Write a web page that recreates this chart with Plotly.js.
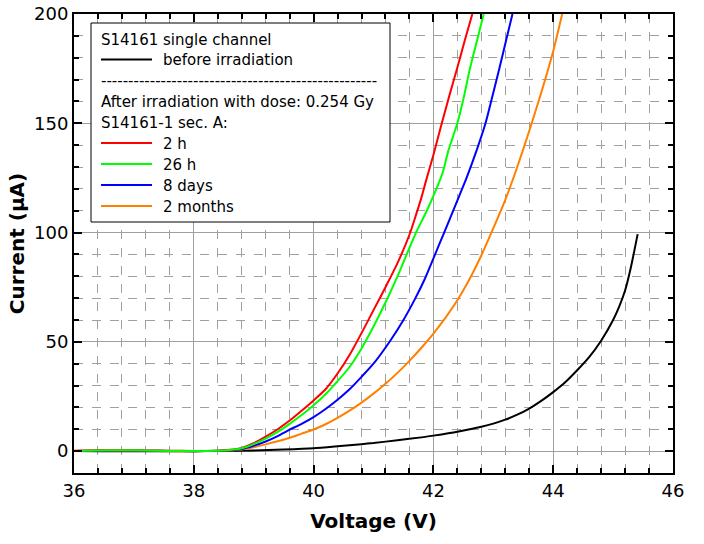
<!DOCTYPE html>
<html>
<head>
<meta charset="utf-8">
<script src="https://cdn.plot.ly/plotly-3.0.1.min.js"></script>
<style>html,body{margin:0;padding:0;background:#fff;}#chart{width:704px;height:544px;}</style>
</head>
<body>
<div id="chart"></div>
<script>
// ---- Data ----
const V_BEFORE = [36.0, 36.4, 37.0, 38.0, 38.5, 39.0, 39.5, 40.0, 40.4, 40.8, 41.0, 41.4, 41.8, 42.0, 42.4, 42.8, 43.0, 43.2, 43.4, 43.6, 43.8, 44.0, 44.2, 44.4, 44.6, 44.8, 45.0, 45.1, 45.2, 45.3, 45.41];
const I_BEFORE = [0.1, 0.0, 0.0, 0.0, 0.1, 0.3, 0.7, 1.3, 2.2, 3.2, 3.7, 5.0, 6.3, 7.1, 8.9, 11.2, 12.6, 14.4, 16.7, 19.5, 23, 27, 31.5, 37, 43, 50.5, 60, 66, 73.5, 84.5, 99.3];

const V_2H = [36.0, 36.4, 36.8, 37.2, 37.6, 38.0, 38.4, 38.6, 38.8, 39.0, 39.2, 39.4, 39.6, 39.8, 40.0, 40.2, 40.4, 40.6, 40.8, 41.0, 41.2, 41.4, 41.6, 41.72, 41.8, 41.88, 42.0, 42.14, 42.27, 42.4, 42.52, 42.65];
const I_2H = [0.2, 0.4, 0.5, 0.3, 0.2, 0.1, 0.2, 0.6, 1.5, 3.6, 6.6, 10, 14, 18.5, 23.2, 28.3, 35.5, 44, 54, 64.5, 75, 86, 99, 109, 116, 124, 135.5, 150, 163, 175.5, 187.5, 200];

const V_26H = [36.0, 36.4, 36.8, 37.2, 37.6, 38.0, 38.4, 38.6, 38.8, 39.0, 39.2, 39.4, 39.6, 39.8, 40.0, 40.2, 40.4, 40.6, 40.8, 41.0, 41.2, 41.4, 41.6, 41.71, 41.89, 42.05, 42.15, 42.25, 42.4, 42.5, 42.61, 42.72, 42.84];
const I_26H = [0.1, 0.3, 0.4, 0.3, 0.1, 0.1, 0.2, 0.5, 1.3, 3.2, 5.7, 8.8, 12.5, 16.5, 21, 26, 32, 38.5, 47, 57, 68, 80, 93, 100, 110, 120, 127, 137.5, 150, 161, 175, 187, 200];

const V_8D = [36.0, 36.4, 36.8, 37.2, 37.6, 38.0, 38.4, 38.6, 38.8, 39.0, 39.2, 39.4, 39.6, 39.8, 40.0, 40.2, 40.4, 40.6, 40.8, 41.0, 41.28, 41.5, 41.7, 41.86, 42.02, 42.18, 42.36, 42.56, 42.72, 42.87, 43.0, 43.1, 43.21, 43.32];
const I_8D = [0.1, 0.2, 0.3, 0.2, 0.1, 0.0, 0.2, 0.4, 1.0, 2.5, 4.4, 6.9, 9.8, 12.5, 15.6, 19.3, 23.5, 28.3, 34, 40, 50.5, 60, 70, 79, 89.5, 100, 112, 125.5, 137.5, 150, 164, 175, 187.5, 200];

const V_2M = [36.0, 36.4, 36.8, 37.2, 37.6, 38.0, 38.4, 38.6, 38.8, 39.0, 39.2, 39.4, 39.6, 39.8, 40.0, 40.2, 40.4, 40.6, 40.8, 41.0, 41.2, 41.4, 41.6, 41.8, 42.0, 42.2, 42.4, 42.6, 42.8, 43.0, 43.2, 43.4, 43.6, 43.8, 44.0, 44.15];
const I_2M = [0.1, 0.2, 0.2, 0.1, 0.0, 0.0, 0.1, 0.3, 0.8, 1.8, 3.1, 4.5, 6.1, 8, 9.9, 12.3, 15.2, 18.5, 22.2, 26.3, 30.8, 35.8, 41.3, 47.3, 53.8, 61, 69, 78.5, 89.5, 102, 115, 130, 146.5, 164, 183, 200];

const X_TICKS = [36, 38, 40, 42, 44, 46];
const Y_TICKS = [0, 50, 100, 150, 200];

const LEGEND_HEADER = "S14161 single channel";
const LEGEND_BEFORE = "before irradiation";
const LEGEND_SEP = "---------------------------------------------------";
const LEGEND_AFTER1 = "After irradiation with dose: 0.254 Gy";
const LEGEND_AFTER2 = "S14161-1 sec. A:";
const SERIES_NAMES = ["2 h", "26 h", "8 days", "2 months"];
const SERIES_COLORS = ["#ff0000", "#00ff00", "#0000ff", "#ff8000"];

// ---- Traces ----
const FONT = "DejaVu Sans, Verdana, sans-serif";
function line(x, y, color, name) {
  return {x: x, y: y, type: 'scatter', mode: 'lines', name: name,
          line: {color: color, width: 2, shape: 'spline', smoothing: 0.6},
          showlegend: false, hoverinfo: 'skip'};
}
const traces = [
  line(V_BEFORE, I_BEFORE, '#000000', LEGEND_BEFORE),
  line(V_2M, I_2M, SERIES_COLORS[3], SERIES_NAMES[3]),
  line(V_8D, I_8D, SERIES_COLORS[2], SERIES_NAMES[2]),
  line(V_2H, I_2H, SERIES_COLORS[0], SERIES_NAMES[0]),
  line(V_26H, I_26H, SERIES_COLORS[1], SERIES_NAMES[1]),
  // empty trace that only activates the mirrored (top/right) axes
  {x: [], y: [], type: 'scatter', mode: 'lines', xaxis: 'x2', yaxis: 'y2', showlegend: false, hoverinfo: 'skip'}
];

// ---- Legend box (pixel layout converted to paper coords) ----
const L = 74, R = 31, T = 14, B = 71, W = 704, H = 544;
const pw = W - L - R, ph = H - T - B;
const px = p => (p - L) / pw;
const py = p => (H - B - p) / ph;

const shapes = [
  {type: 'rect', xref: 'paper', yref: 'paper', x0: px(91), x1: px(390), y0: py(222), y1: py(23),
   fillcolor: '#ffffff', line: {color: '#000000', width: 1}, layer: 'above'},
  {type: 'line', xref: 'paper', yref: 'paper', x0: px(101), x1: px(152), y0: py(59.5), y1: py(59.5),
   line: {color: '#000000', width: 2}, layer: 'above'}
];
const rowY = [143, 164, 185, 206];
SERIES_COLORS.forEach((c, i) => {
  shapes.push({type: 'line', xref: 'paper', yref: 'paper', x0: px(101), x1: px(152), y0: py(rowY[i]), y1: py(rowY[i]),
               line: {color: c, width: 2}, layer: 'above'});
});

function ann(text, x, y) {
  return {text: text, xref: 'paper', yref: 'paper', x: px(x), y: py(y), xanchor: 'left', yanchor: 'middle',
          showarrow: false, font: {family: FONT, size: 15, color: '#000'}};
}
const annotations = [
  ann(LEGEND_HEADER, 99, 40),
  ann(LEGEND_BEFORE, 161, 60),
  ann(LEGEND_SEP, 99, 81),
  ann(LEGEND_AFTER1, 99, 102),
  ann(LEGEND_AFTER2, 99, 123)
];
SERIES_NAMES.forEach((n, i) => annotations.push(ann(n, 161, rowY[i] + 1)));

const minorCommon = {ticks: 'inside', ticklen: 5, tickwidth: 2, tickcolor: '#000'};
const axisCommon = {
  showline: true, linecolor: '#000', linewidth: 2, mirror: true,
  ticks: 'inside', ticklen: 8, tickwidth: 2, tickcolor: '#000',
  showgrid: true, gridcolor: '#a0a0a0', gridwidth: 1, zeroline: false,
  tickfont: {family: FONT, size: 18, color: '#000'},
};

const layout = {
  width: W, height: H,
  margin: {l: L, r: R, t: T, b: B, pad: 0},
  paper_bgcolor: '#fff', plot_bgcolor: '#fff',
  showlegend: false,
  font: {family: FONT, color: '#000'},
  xaxis: Object.assign({}, axisCommon, {
    range: [36, 46], tickmode: 'array', tickvals: X_TICKS, ticktext: X_TICKS.map(String),
    minor: Object.assign({dtick: 0.4, tick0: 36, showgrid: true, gridcolor: '#a0a0a0', gridwidth: 1, griddash: 'dash'}, minorCommon),
    title: {text: '<b>Voltage (V)</b>', font: {family: FONT, size: 20, color: '#000'}, standoff: 14}
  }),
  yaxis: Object.assign({}, axisCommon, {
    range: [-10, 200], tickmode: 'array', tickvals: Y_TICKS, ticktext: Y_TICKS.map(String),
    minor: Object.assign({dtick: 10, tick0: 0, showgrid: true, gridcolor: '#a0a0a0', gridwidth: 1, griddash: 'dash'}, minorCommon),
    title: {text: '<b>Current (µA)</b>', font: {family: FONT, size: 20, color: '#000'}, standoff: 4}
  }),
  xaxis2: {overlaying: 'x', side: 'top', anchor: 'y', range: [36, 46], showticklabels: false, showgrid: false,
           zeroline: false, showline: false, tickmode: 'array', tickvals: X_TICKS,
           ticks: 'inside', ticklen: 8, tickwidth: 2, tickcolor: '#000',
           minor: Object.assign({dtick: 0.4, tick0: 36, showgrid: false}, minorCommon)},
  yaxis2: {overlaying: 'y', side: 'right', anchor: 'x', range: [-10, 200], showticklabels: false, showgrid: false,
           zeroline: false, showline: false, tickmode: 'array', tickvals: Y_TICKS,
           ticks: 'inside', ticklen: 8, tickwidth: 2, tickcolor: '#000',
           minor: Object.assign({dtick: 10, tick0: 0, showgrid: false}, minorCommon)},
  shapes: shapes,
  annotations: annotations
};

Plotly.newPlot('chart', traces, layout, {staticPlot: true, displayModeBar: false});
</script>
</body>
</html>
